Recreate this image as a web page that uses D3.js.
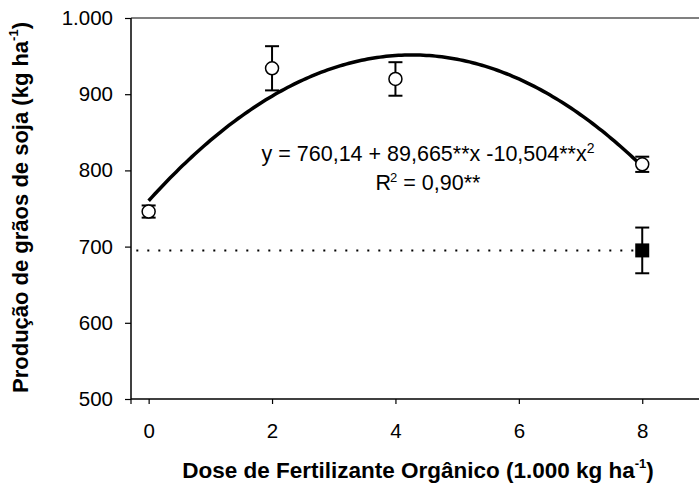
<!DOCTYPE html>
<html>
<head>
<meta charset="utf-8">
<script src="https://cdn.jsdelivr.net/npm/d3@7"></script>
<style>
  body { margin: 0; background: #fff; }
  svg { display: block; font-family: "Liberation Sans", Arial, sans-serif; }
</style>
</head>
<body>
<svg id="chart" width="699" height="485"></svg>
<script>
// ---- data ----
const doses = [0, 2, 4, 8];
const yieldMeans = [746, 934, 920, 808];
const yieldErrors = [8, 29, 22, 10];
const controlDose = [8];
const controlMean = [695];
const controlError = [30];
const fitCoefficients = [760.14, 89.665, -10.504]; // y = a + b x + c x^2 (from the chart's equation)
const xTickValues = [0, 2, 4, 6, 8];
const yTickValues = [500, 600, 700, 800, 900, 1000];
const yTickLabels = ["500", "600", "700", "800", "900", "1.000"];

const svg = d3.select("#chart");
const plotLeft = 131, plotRight = 699, plotTop = 18, plotBottom = 399;

const x = d3.scaleLinear().domain([-0.286, 8.92]).range([plotLeft, plotRight]);
const y = d3.scaleLinear().domain([500, 1000]).range([plotBottom, plotTop]);

// axes
const yAxis = d3.axisLeft(y).tickValues(yTickValues).tickSize(6).tickPadding(12)
  .tickFormat((d, i) => yTickLabels[i]);
const gy = svg.append("g").attr("transform", `translate(${plotLeft},0)`).call(yAxis);
gy.select(".domain").remove();
gy.selectAll("line").attr("stroke", "#000").attr("stroke-width", 1.2);
gy.selectAll("text").attr("font-size", 20.5).attr("fill", "#000")
  .attr("font-family", "Liberation Sans, Arial, sans-serif");

const xAxis = d3.axisBottom(x).tickValues(xTickValues).tickSize(5).tickPadding(19);
const gx = svg.append("g").attr("transform", `translate(0,${plotBottom})`).call(xAxis);
gx.select(".domain").remove();
gx.selectAll("line").attr("stroke", "#000").attr("stroke-width", 1.2);
gx.selectAll("text").attr("font-size", 20.5).attr("fill", "#000")
  .attr("font-family", "Liberation Sans, Arial, sans-serif");
// corner tick at axis origin
svg.append("line").attr("x1", plotLeft).attr("x2", plotLeft).attr("y1", plotBottom).attr("y2", plotBottom + 5)
  .attr("stroke", "#000").attr("stroke-width", 1.2);

// frame lines
svg.append("line").attr("x1", plotLeft).attr("x2", plotRight).attr("y1", plotTop).attr("y2", plotTop)
  .attr("stroke", "#808080").attr("stroke-width", 2);
svg.append("line").attr("x1", plotLeft).attr("x2", plotLeft).attr("y1", plotTop).attr("y2", plotBottom)
  .attr("stroke", "#000").attr("stroke-width", 1.5);
svg.append("line").attr("x1", plotLeft).attr("x2", plotRight).attr("y1", plotBottom).attr("y2", plotBottom)
  .attr("stroke", "#000").attr("stroke-width", 1.5);

// control dotted line
svg.append("line")
  .attr("x1", x(-0.2)).attr("x2", x(controlDose[0]))
  .attr("y1", y(controlMean[0])).attr("y2", y(controlMean[0]))
  .attr("stroke", "#000").attr("stroke-width", 2).attr("stroke-dasharray", "2,9");

// fitted curve
const curveX = d3.range(0, 8.0001, 0.05);
const fit = v => fitCoefficients[0] + fitCoefficients[1] * v + fitCoefficients[2] * v * v;
svg.append("path")
  .datum(curveX)
  .attr("d", d3.line().x(d => x(d)).y(d => y(fit(d))))
  .attr("fill", "none").attr("stroke", "#000").attr("stroke-width", 3.5)
  .attr("stroke-linejoin", "round");

// error bars
function errorBars(xs, means, errs) {
  const g = svg.append("g").attr("stroke", "#000").attr("stroke-width", 2);
  xs.forEach((d, i) => {
    const cx = x(d), y1 = y(means[i] + errs[i]), y2 = y(means[i] - errs[i]);
    g.append("line").attr("x1", cx).attr("x2", cx).attr("y1", y1).attr("y2", y2);
    g.append("line").attr("x1", cx - 7).attr("x2", cx + 7).attr("y1", y1).attr("y2", y1);
    g.append("line").attr("x1", cx - 7).attr("x2", cx + 7).attr("y1", y2).attr("y2", y2);
  });
}
errorBars(doses, yieldMeans, yieldErrors);
errorBars(controlDose, controlMean, controlError);

// points
svg.append("g").selectAll("circle").data(doses).join("circle")
  .attr("cx", d => x(d)).attr("cy", (d, i) => y(yieldMeans[i])).attr("r", 6.5)
  .attr("fill", "#fff").attr("stroke", "#000").attr("stroke-width", 1.5);
svg.append("g").selectAll("rect").data(controlDose).join("rect")
  .attr("x", d => x(d) - 7).attr("y", (d, i) => y(controlMean[i]) - 7)
  .attr("width", 14).attr("height", 14).attr("fill", "#000");

// equation text
const eq = svg.append("text").attr("x", 428).attr("y", 160.7).attr("text-anchor", "middle")
  .attr("font-size", 21.5).attr("fill", "#000");
eq.append("tspan").text("y = 760,14 + 89,665**x -10,504**x");
eq.append("tspan").attr("font-size", 14).attr("dy", -8).text("2");
const r2 = svg.append("text").attr("x", 428).attr("y", 190).attr("text-anchor", "middle")
  .attr("font-size", 21.5).attr("fill", "#000");
r2.append("tspan").text("R");
r2.append("tspan").attr("font-size", 13).attr("dy", -8).attr("dx", -1).text("2");
r2.append("tspan").attr("dy", 8).text(" = 0,90**");

// axis titles
const xt = svg.append("text").attr("x", 418).attr("y", 478).attr("text-anchor", "middle")
  .attr("font-size", 22.5).attr("font-weight", "bold").attr("fill", "#000");
xt.append("tspan").text("Dose de Fertilizante Orgânico (1.000 kg ha");
xt.append("tspan").attr("font-size", 13).attr("dy", -10).text("-1");
xt.append("tspan").attr("dy", 10).text(")");

const yt = svg.append("text").attr("transform", "translate(28,207.5) rotate(-90)")
  .attr("text-anchor", "middle")
  .attr("font-size", 22).attr("font-weight", "bold").attr("fill", "#000");
yt.append("tspan").text("Produção de grãos de soja (kg ha");
yt.append("tspan").attr("font-size", 13).attr("dy", -10).text("-1");
yt.append("tspan").attr("dy", 10).text(")");
</script>
</body>
</html>
